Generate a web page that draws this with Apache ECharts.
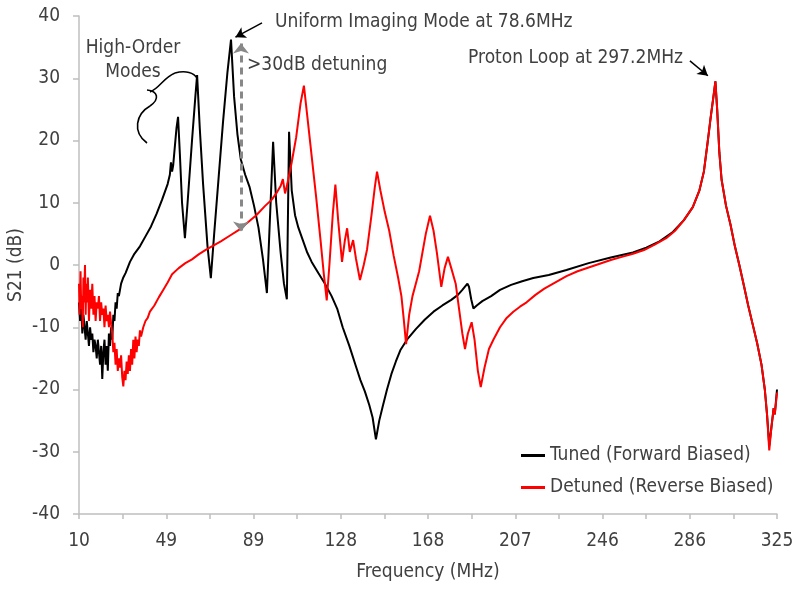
<!DOCTYPE html>
<html>
<head>
<meta charset="utf-8">
<script src="https://cdn.jsdelivr.net/npm/echarts@6/dist/echarts.min.js"></script>
<style>html,body{margin:0;padding:0;background:#fff}#c{width:800px;height:590px}</style>
</head>
<body>
<div id="c"></div>
<script>
// ---- data (frequency in MHz, S21 in dB) ----
var tunedFreq = [10,10.5,11,11.5,12,12.5,13,13.5,14,14.5,15,15.5,16,16.5,17,17.5,18,18.5,19,19.5,20,20.5,21,21.5,22,22.5,23,23.5,24,24.5,25,25.5,26,26.5,27,27.5,28,29,30,31,33,35,37.5,40,42.5,45,47.5,50,51,51.5,52,52.5,53,54,54.7,55.5,56.5,57.8,59,61,62.5,63.3,64.5,66,68,69.5,71,73,75,77,78.6,80,81.5,83,85,87,89,91,93,94.8,96,97.6,99,101,102.5,103.8,104.8,106,107.5,109,111,113,115,118,121,124,126.5,129,132,135,137,139,141,142.5,144,145.5,147,149,151,153,155,158,162,166,170,174,178,181,183,185.3,186,187,188,189.5,192,196,200,205,210,215,222,230,240,250,260,266,272,278,283,287,290,292,293.8,295,296.3,297.2,298,299,300,302,304,306,308,310,312,314,316,318,319.5,320.5,321.5,322.5,323.5,324,325];
var tunedS21 = [-6,-9,-7,-11,-8,-10,-12,-9,-11,-13,-10,-12,-11,-14,-12,-13,-15,-12,-14,-16,-13,-18.3,-14,-12,-16,-13,-17,-11,-13,-10,-12,-8,-9,-6,-7,-4.5,-5,-3,-2,-1.3,0.5,1.8,3,4.6,6.2,8.2,10.5,13,14.5,16.5,15,16,18,22,23.8,18,10,4.3,10,20,27,30.5,22,13,3,-2.1,5,14,23,31,36.2,27,21,17,14.5,12.5,9.5,6,1,-4.5,6,19.8,10,2,-3,-5.5,21.4,12,8,6,4,2,0.5,-1.3,-3,-5,-7,-10,-13,-16.3,-18.5,-20.3,-22.5,-24.5,-28,-25,-22.8,-20,-17.5,-15.5,-13.7,-12,-10.3,-8.8,-7.5,-6.5,-5.6,-4.8,-4,-3,-3.5,-5.5,-7,-6.5,-5.8,-5,-4,-3.2,-2.6,-2.1,-1.6,-0.8,0.3,1.2,2,2.8,3.8,5.3,7.2,9.3,12,15,20,23.5,27,29.5,25,18,13.7,9.5,6.5,3,0,-3.2,-6.5,-9.5,-12.5,-16,-20,-24,-29,-26,-23,-24,-20];

var detunedFreq = [10,10.3,10.7,11,11.3,11.7,12,12.3,12.7,13,13.3,13.7,14,14.5,15,15.5,16,16.5,17,17.5,18,18.5,19,19.5,20,20.5,21,21.5,22,22.5,23,23.5,24,24.5,25,25.5,26,26.5,27,27.5,28,28.5,29,29.5,30,30.5,31,31.5,32,32.5,33,33.5,34,34.5,35,35.5,36,36.5,37,37.5,38,39,40,41,42,44,46,48,50,52,55,58,61,64,67,70,74,78,82,86,90,94,97,99,101,102,103,104,106,108,110,111.5,113,115,117,119,120.5,121.8,123,124.5,125.7,127,128.7,130,131,132.2,133.7,135,136.8,138.5,140,142,143.5,144.5,146,148,150,152,154,155.5,156.5,157.6,159,160.5,162,163.5,165,166.5,168.4,170,171.5,173.5,175,176.5,178,180,181.5,183,184.2,185.5,187.2,188.5,190,191.3,193,195,197,200,203,206,209,212,216,220,225,230,235,240,245,250,255,260,265,270,275,279,283,287,290,292,293.8,295,296.3,297.2,298,299,300,302,304,306,308,310,312,314,316,318,319.5,320.5,321.5,322.5,323.5,324,325];
var detunedS21 = [-3,-8,-1,-7,-5,-10,-2,-6,0,-8,-3,-6,-2,-9,-4,-7,-3,-8,-5,-9,-6,-7,-5,-9,-6,-8,-7,-10,-6.5,-9,-8,-10,-7.5,-9.5,-11,-14,-12.5,-16,-13.5,-17,-15,-16.5,-14.5,-18,-19.5,-17,-18.5,-15.5,-17.5,-14.5,-17,-13.5,-16,-12,-15,-11.5,-14,-12,-13,-10.5,-11.5,-10,-9,-8.5,-7.5,-6.5,-5.2,-4,-2.8,-1.5,-0.5,0.3,0.9,1.7,2.4,3,3.8,4.7,5.6,6.8,8,9.5,10.5,11.5,12.7,13.8,11.5,13,16.5,20.5,26,28.8,24,17.5,11,4,-1.5,-5.7,0,8,12.9,7,0.5,4,5.9,2.1,4,1,-2.4,0,2.5,8,12.5,15,12,8.5,5.5,1.5,-2,-5,-8.5,-12.7,-8,-5,-3,-1,2,5,7.9,5.5,2,-3.5,-0.5,1.3,-0.5,-3,-7,-11,-13.5,-11,-9.2,-12,-17,-19.6,-16.5,-13.5,-12,-10,-8.5,-7.5,-6.7,-6,-4.8,-3.8,-2.8,-1.8,-1,-0.4,0.2,0.8,1.3,1.8,2.4,3.3,4.3,5.5,7.2,9.3,12,15,20,23.5,27,29.5,25,18,13.7,9.5,6.5,3,0,-3.2,-6.5,-9.5,-12.5,-16,-20,-24,-29.8,-26,-23,-24,-20.5];

var seriesNames = ['Tuned (Forward Biased)', 'Detuned (Reverse Biased)'];
var xMin = 10, xMax = 325, xLabelStep = 39.375;
var yMin = -40, yMax = 40, yStep = 10;

function zip(a, b) { var r = []; for (var i = 0; i < a.length; i++) r.push([a[i], b[i]]); return r; }
var labelVals = [], tickVals = [];
for (var k = 0; k <= 8; k++) labelVals.push(xMin + k * xLabelStep);
for (var k = 0; k <= 16; k++) tickVals.push(xMin + k * xLabelStep / 2);

var FONT = "'Liberation Sans Narrow', 'DejaVu Sans Condensed', 'Liberation Sans', sans-serif";
var TXT = '#404040';
var AX = '#bfbfbf';

function brace(x1, y1, cx1, cy1, cx2, cy2, x2, y2) {
  return { type: 'bezierCurve', shape: { x1: x1, y1: y1, cpx1: cx1, cpy1: cy1, cpx2: cx2, cpy2: cy2, x2: x2, y2: y2 },
    style: { stroke: '#000', fill: null, lineWidth: 1.6 } };
}

var chart = echarts.init(document.getElementById('c'), null, { renderer: 'canvas' });
chart.setOption({
  animation: false,
  backgroundColor: '#fff',
  textStyle: { fontFamily: FONT },
  grid: { left: 79, right: 23, top: 16, bottom: 76, containLabel: false, outerBoundsMode: 'none' },
  legend: {
    orient: 'vertical', left: 516, top: 441, itemGap: 13, itemWidth: 24, itemHeight: 3,
    icon: 'rect',
    textStyle: { fontSize: 19, color: TXT, fontFamily: FONT },
    data: seriesNames
  },
  xAxis: {
    type: 'value', min: xMin, max: xMax,
    name: 'Frequency (MHz)', nameLocation: 'middle', nameGap: 49, nameMoveOverlap: false,
    nameTextStyle: { fontSize: 19, color: TXT, fontFamily: FONT },
    axisLine: { show: true, onZero: false, lineStyle: { color: AX, width: 1.5 } },
    axisTick: { show: true, length: 5, lineStyle: { color: AX, width: 1.5 }, customValues: tickVals },
    axisLabel: { fontSize: 19, color: TXT, margin: 18, customValues: labelVals,
      formatter: function (v) { return String(Math.round(v)); } },
    splitLine: { show: false }
  },
  yAxis: {
    type: 'value', min: yMin, max: yMax, interval: yStep,
    name: 'S21 (dB)', nameLocation: 'middle', nameGap: 53, nameMoveOverlap: false,
    nameTextStyle: { fontSize: 19, color: TXT, fontFamily: FONT },
    axisLine: { show: true, lineStyle: { color: AX, width: 1.5 } },
    axisTick: { show: true, length: 6, lineStyle: { color: AX, width: 1.5 } },
    axisLabel: { fontSize: 19, color: TXT, margin: 19 },
    splitLine: { show: false }
  },
  series: [
    {
      name: seriesNames[0], type: 'line', data: zip(tunedFreq, tunedS21),
      showSymbol: false, symbol: 'none', color: '#000',
      lineStyle: { color: '#000', width: 2 }, z: 2,
      markLine: {
        silent: true, animation: false, label: { show: false },
        data: [
          [{ coord: [83.1, 35.6], symbol: 'arrow', symbolSize: [12, 10], lineStyle: { color: '#888', width: 3, type: [7, 5] } },
           { coord: [83.1, 5.4], symbol: 'arrow', symbolSize: [12, 10] }],
          [{ coord: [92.6, 38.9], symbol: 'none', lineStyle: { color: '#000', width: 1.5, type: 'solid' } },
           { coord: [80.6, 36.6], symbol: 'arrow', symbolSize: [9, 10] }],
          [{ coord: [285.7, 32.8], symbol: 'none', lineStyle: { color: '#000', width: 1.5, type: 'solid' } },
           { coord: [293.8, 30.4], symbol: 'arrow', symbolSize: [9, 10] }]
        ]
      }
    },
    {
      name: seriesNames[1], type: 'line', data: zip(detunedFreq, detunedS21),
      showSymbol: false, symbol: 'none', color: '#ff0000',
      lineStyle: { color: '#ff0000', width: 2 }, z: 3
    }
  ],
  graphic: [
    { type: 'text', x: 133, y: 48, style: { text: 'High-Order', font: "19px " + FONT, fill: TXT, align: 'center', verticalAlign: 'middle' } },
    { type: 'text', x: 133, y: 72, style: { text: 'Modes', font: "19px " + FONT, fill: TXT, align: 'center', verticalAlign: 'middle' } },
    { type: 'text', x: 275, y: 22, style: { text: 'Uniform Imaging Mode at 78.6MHz', font: "19px " + FONT, fill: TXT, align: 'left', verticalAlign: 'middle' } },
    { type: 'text', x: 247, y: 65, style: { text: '>30dB detuning', font: "19px " + FONT, fill: TXT, align: 'left', verticalAlign: 'middle' } },
    { type: 'text', x: 683, y: 58, style: { text: 'Proton Loop at 297.2MHz', font: "19px " + FONT, fill: TXT, align: 'right', verticalAlign: 'middle' } },
    brace(147, 143, 132, 132, 136, 114, 150, 106),
    brace(150, 106, 160, 99, 158, 91, 147, 90),
    brace(150, 92, 160, 88, 163, 78, 175, 73),
    brace(175, 73, 186, 70, 194, 73, 197, 78)
  ]
});
</script>
</body>
</html>
